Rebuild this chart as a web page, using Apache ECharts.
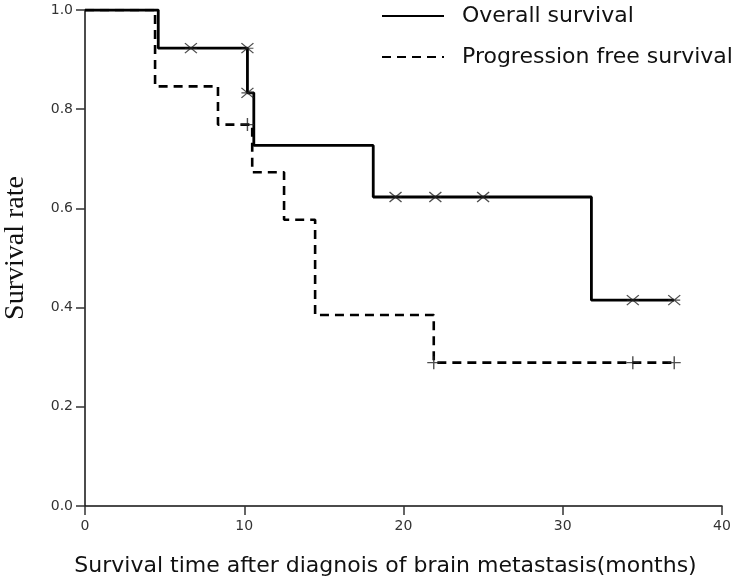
<!DOCTYPE html>
<html>
<head>
<meta charset="utf-8">
<script src="https://cdn.jsdelivr.net/npm/echarts@6/dist/echarts.min.js"></script>
<style>html,body{margin:0;padding:0;background:#fff}#c{width:744px;height:580px}</style>
</head>
<body>
<div id="c"></div>
<script>
// Overall survival (Kaplan-Meier steps)
const osTimes = [0, 4.6, 10.2, 10.6, 18.1, 31.8, 37.0];
const osRates = [1.0, 0.923, 0.833, 0.727, 0.623, 0.415, 0.415];
const osCensorTimes = [6.65, 10.2, 10.2, 19.5, 22.0, 25.0, 34.4, 37.0];
const osCensorRates = [0.923, 0.923, 0.833, 0.623, 0.623, 0.623, 0.415, 0.415];

// Progression free survival
const pfsTimes = [0, 4.4, 8.35, 10.5, 12.5, 14.45, 21.9, 37.0];
const pfsRates = [1.0, 0.846, 0.769, 0.673, 0.577, 0.385, 0.289, 0.289];
const pfsCensorTimes = [10.2, 21.9, 34.4, 37.0];
const pfsCensorRates = [0.769, 0.289, 0.289, 0.289];

const seriesNames = ['Overall survival', 'Progression free survival'];
const xTicks = [0, 10, 20, 30, 40];
const yTicks = [0.0, 0.2, 0.4, 0.6, 0.8, 1.0];

const zip = (a, b) => a.map((v, i) => [v, b[i]]);
const starPath = 'path://M-1,-0.8L1,0.8M-1,0.8L1,-0.8M-1,0L1,0';
const plusPath = 'path://M0,-1L0,1M-1,0L1,0';

const chart = echarts.init(document.getElementById('c'));
chart.setOption({
  animation: false,
  backgroundColor: '#fff',
  grid: { left: 85, right: 22, top: 10, bottom: 74, containLabel: false, outerBoundsMode: 'none' },
  legend: {
    data: seriesNames,
    orient: 'vertical',
    left: 376, top: 0,
    itemWidth: 62, itemHeight: 14, itemGap: 19,
    itemStyle: { opacity: 0 },
    textStyle: { fontFamily: 'DejaVu Sans', fontSize: 22, color: '#111', padding: [0, 0, 0, 13] }
  },
  xAxis: {
    type: 'value', min: xTicks[0], max: xTicks[xTicks.length - 1], interval: 10,
    name: 'Survival time after diagnois of brain metastasis(months)',
    nameLocation: 'middle', nameGap: 49,
    nameTextStyle: { fontFamily: 'DejaVu Sans', fontSize: 22, color: '#111', padding: [0, 36, 0, 0] },
    axisLine: { lineStyle: { color: '#111', width: 1.5 } },
    axisTick: { length: 9, lineStyle: { color: '#333', width: 1.5 } },
    axisLabel: { fontFamily: 'DejaVu Sans', fontSize: 14, color: '#333', margin: 13 },
    splitLine: { show: false }
  },
  yAxis: {
    type: 'value', min: yTicks[0], max: yTicks[yTicks.length - 1], interval: 0.2,
    name: 'Survival rate', nameLocation: 'middle', nameGap: 55,
    nameTextStyle: { fontFamily: 'Liberation Serif', fontSize: 28, color: '#111', padding: [0, 0, 0, 20] },
    axisLine: { show: true, lineStyle: { color: '#111', width: 1.5 } },
    axisTick: { show: true, length: 9, lineStyle: { color: '#333', width: 1.5 } },
    axisLabel: { fontFamily: 'DejaVu Sans', fontSize: 14, color: '#333', margin: 12,
      formatter: v => v.toFixed(1) },
    splitLine: { show: false }
  },
  series: [
    {
      name: seriesNames[0], type: 'line', step: 'end', symbol: 'none',
      data: zip(osTimes, osRates),
      lineStyle: { color: '#000', width: 2.8, type: 'solid' },
      itemStyle: { color: '#000' }, z: 3
    },
    {
      name: seriesNames[1], type: 'line', step: 'end', symbol: 'none',
      data: zip(pfsTimes, pfsRates),
      lineStyle: { color: '#000', width: 2.6, type: [9, 6] },
      itemStyle: { color: '#000' }, z: 2
    },
    {
      name: 'os-censored', type: 'scatter', symbol: starPath, symbolSize: [12, 10],
      data: zip(osCensorTimes, osCensorRates),
      itemStyle: { color: 'none', borderColor: '#222', borderWidth: 1.2 }, z: 4
    },
    {
      name: 'pfs-censored', type: 'scatter', symbol: plusPath, symbolSize: [13, 13],
      data: zip(pfsCensorTimes, pfsCensorRates),
      itemStyle: { color: 'none', borderColor: '#222', borderWidth: 1.4 }, z: 4
    }
  ]
});
</script>
</body>
</html>
